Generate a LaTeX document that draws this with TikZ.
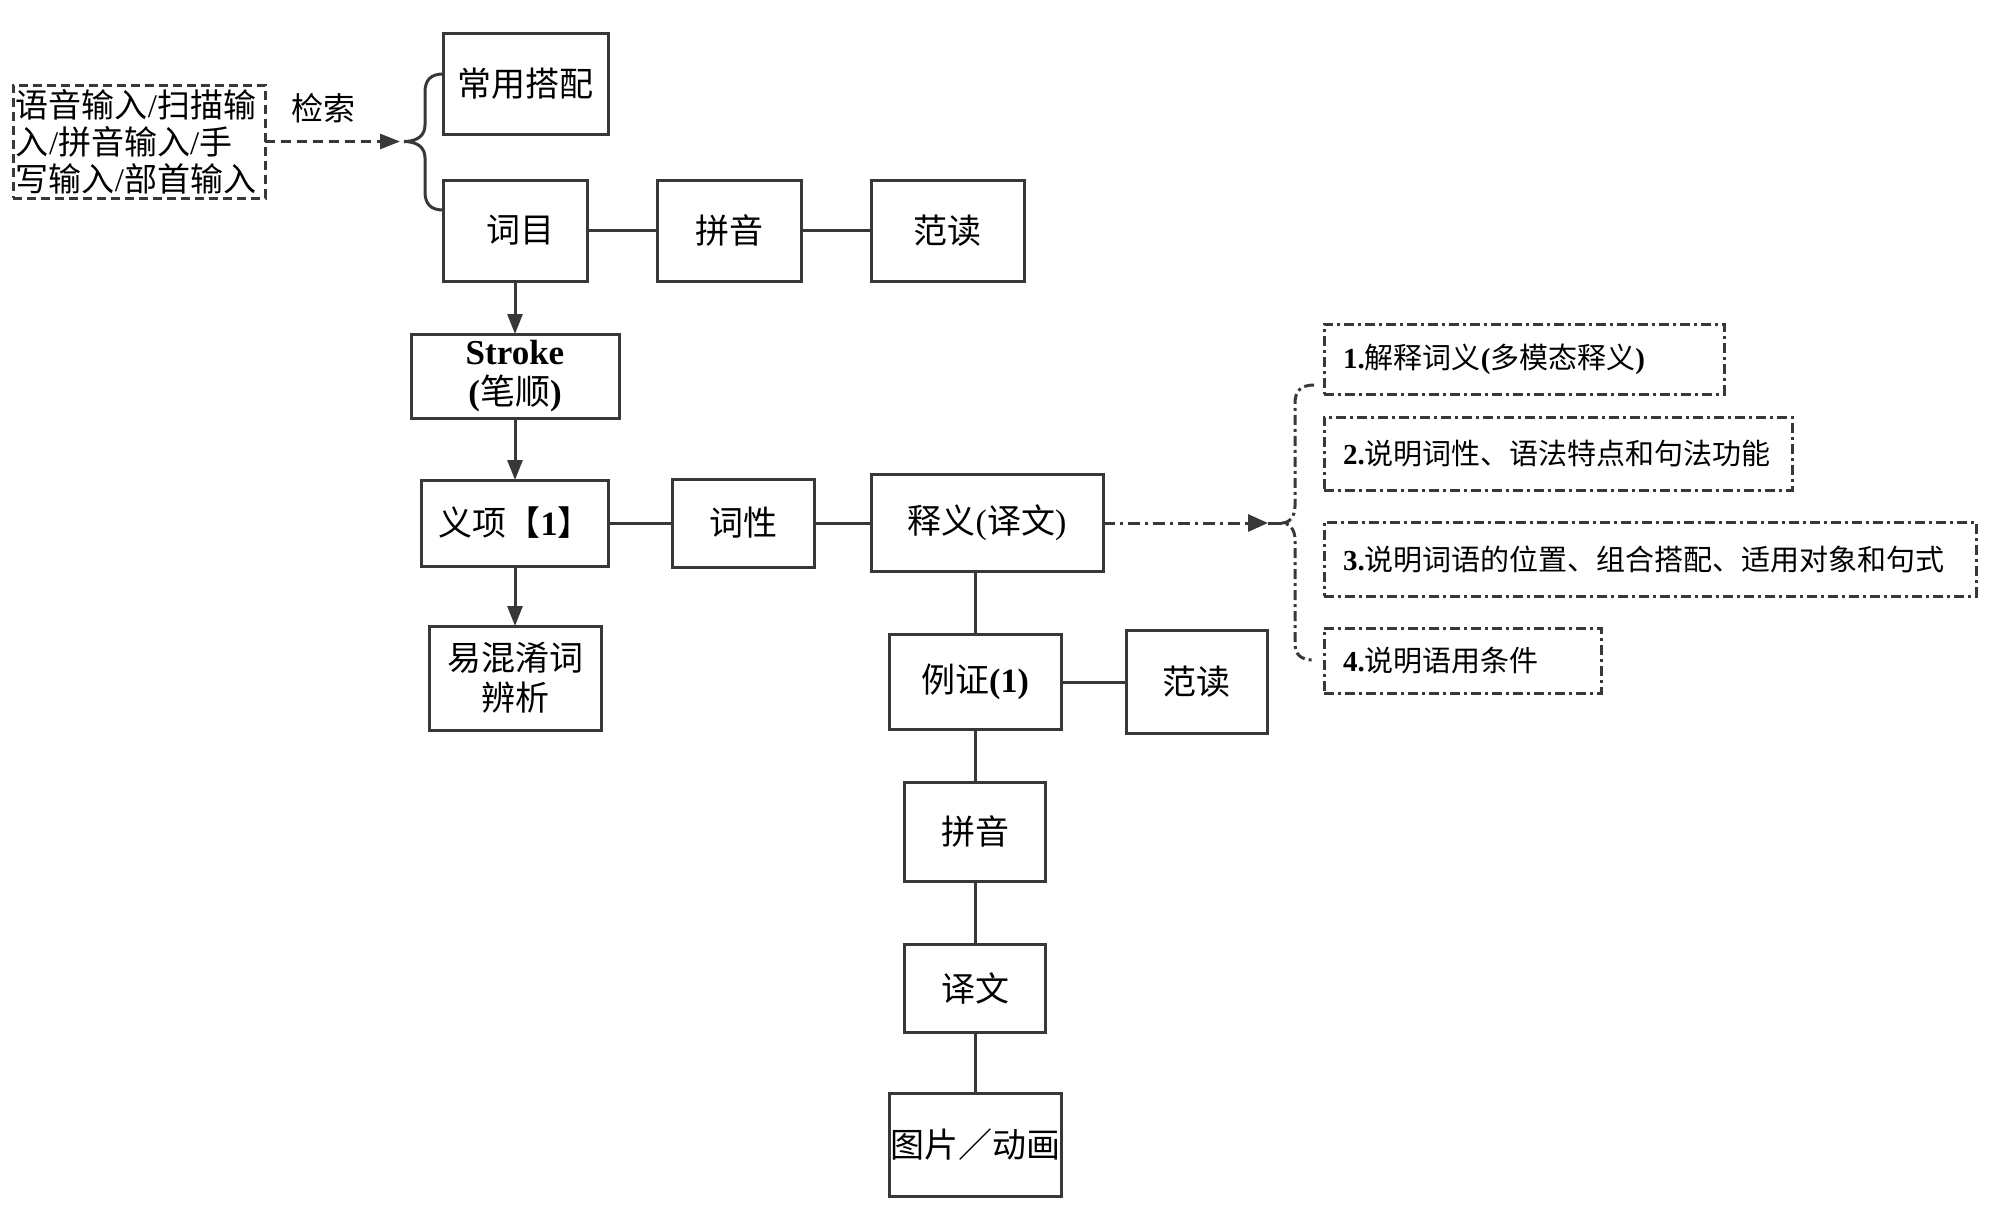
\documentclass[tikz,border=0pt]{standalone}
\usepackage{fontspec}
\setmainfont{Liberation Serif}
\newfontfamily\cjk{Noto Sans CJK SC}
\usetikzlibrary{arrows.meta}
\definecolor{lc}{gray}{0.22}
\begin{document}
\begin{tikzpicture}[x=1pt,y=-1pt,
  every node/.style={inner sep=0pt, outer sep=0pt, text=black},
  box/.style={draw=lc, line width=3pt, font=\fontsize{34}{40}\selectfont, align=center},
  ddbox/.style={draw=lc, line width=3pt, dash pattern=on 10pt off 4pt on 3pt off 4pt,
    font=\fontsize{29}{34}\selectfont, align=left, inner xsep=19pt, anchor=west},
  inbox/.style={draw=lc, line width=3pt, dash pattern=on 9pt off 5pt,
    font=\fontsize{33}{37}\selectfont, align=left, inner xsep=3pt},
  conn/.style={draw=lc, line width=3pt},
  arr/.style={conn, -{Triangle[length=20pt,width=15pt]}},
  dasharr/.style={conn, dash pattern=on 10pt off 6pt, -{Triangle[length=20pt,width=15pt]}},
  ddline/.style={conn, dash pattern=on 10pt off 4pt on 3pt off 4pt},
  ddarr/.style={conn, dash pattern=on 12pt off 5pt on 3pt off 5pt, -{Triangle[length=20pt,width=17pt]}},
  lbl/.style={font=\fontsize{32}{36}\selectfont}
]
\useasboundingbox (0,0) rectangle (2000,1218);

% input box
\node[inbox, text width=246pt, minimum height=113pt] (inp) at (139,141.5)
  {{\cjk 语音输入}/{\cjk 扫描输}\\{\cjk 入}/{\cjk 拼音输入}/{\cjk 手}\\{\cjk 写输入}/{\cjk 部首输入}};
\node[lbl] (jiansuo) at (323,108) {\cjk 检索};

% top row
\node[box, minimum width=165pt, minimum height=101pt] (dapei) at (525.5,83.5) {\cjk 常用搭配};
\node[box, minimum width=144pt, minimum height=101pt] (cm) at (515,230.5) {\hspace*{10pt}{\cjk 词目}};
\node[box, minimum width=144pt, minimum height=101pt] (py1) at (729,230.5) {\cjk 拼音};
\node[box, minimum width=153pt, minimum height=101pt] (fd1) at (947.5,230.5) {\cjk 范读};

% left column
\node[box, minimum width=208pt, minimum height=84pt, font=\fontsize{35}{40}\selectfont] (stroke) at (515,376)
  {\textbf{Stroke}\\\textbf{(}{\cjk 笔顺}\textbf{)}};
\node[box, minimum width=187pt, minimum height=86pt] (yx) at (515,523) {{\cjk 义项【}\textbf{1}{\cjk 】}};
\node[box, minimum width=172pt, minimum height=104pt] (yh) at (515,678) {{\cjk 易混淆词}\\{\cjk 辨析}};

% middle row
\node[box, minimum width=142pt, minimum height=88pt] (cx) at (743,523) {\cjk 词性};
\node[box, minimum width=232pt, minimum height=97pt] (sy) at (987,523) {{\cjk 释义}({\cjk 译文})};

% example column
\node[box, minimum width=172pt, minimum height=95pt] (lz) at (975,682) {{\cjk 例证}\textbf{(1)}};
\node[box, minimum width=141pt, minimum height=103pt] (fd2) at (1196.5,682) {\cjk 范读};
\node[box, minimum width=141pt, minimum height=99pt] (py2) at (975,831.5) {\cjk 拼音};
\node[box, minimum width=141pt, minimum height=88pt] (yw) at (975,988) {\cjk 译文};
\node[box, minimum width=172pt, minimum height=103pt] (tp) at (975,1144.5) {\cjk 图片／动画};

% dash-dot boxes
\node[ddbox, text width=362pt, minimum height=70pt] (d1) at (1324,359)
  {\textbf{1.}{\cjk 解释词义}\textbf{(}{\cjk 多模态释义}\textbf{)}};
\node[ddbox, text width=430pt, minimum height=73pt] (d2) at (1324,453.5)
  {\textbf{2.}{\cjk 说明词性、语法特点和句法功能}};
\node[ddbox, text width=614pt, minimum height=74pt] (d3) at (1324,559)
  {\textbf{3.}{\cjk 说明词语的位置、组合搭配、适用对象和句式}};
\node[ddbox, text width=239pt, minimum height=65pt] (d4) at (1324,660.5)
  {\textbf{4.}{\cjk 说明语用条件}};

% braces
\coordinate (b1) at (404,141.5);
\draw[conn] (443,74) .. controls (431,74) and (425,80) .. (425,92) -- (425,125)
  .. controls (425,135) and (418,141.5) .. (b1)
  .. controls (418,141.5) and (425,148) .. (425,158) -- (425,192)
  .. controls (425,204) and (431,210) .. (443,210);
\coordinate (b2) at (1282,523);
\draw[ddline] (1314,385) .. controls (1301,385) and (1295,391) .. (1295,403) -- (1295,506)
  .. controls (1295,516) and (1290,523) .. (b2)
  .. controls (1290,523) and (1295,530) .. (1295,540) -- (1295,643)
  .. controls (1295,655) and (1301,660) .. (1314,660);

% connectors
\draw[dasharr] (inp) -- ([xshift=-4pt]b1);
\draw[conn] (cm) -- (py1);
\draw[conn] (py1) -- (fd1);
\draw[arr] (cm) -- (stroke);
\draw[arr] (stroke) -- (yx);
\draw[arr] (yx) -- (yh);
\draw[conn] (yx) -- (cx);
\draw[conn] (cx) -- (sy);
\draw[conn] (sy.south -| lz) -- (lz);
\draw[conn] (lz) -- (fd2);
\draw[conn] (lz) -- (py2);
\draw[conn] (py2) -- (yw);
\draw[conn] (yw) -- (tp);
\draw[ddarr] (sy) -- ([xshift=-14pt]b2);
\draw[conn] ([xshift=-14pt]b2) -- (b2);
\end{tikzpicture}
\end{document}
